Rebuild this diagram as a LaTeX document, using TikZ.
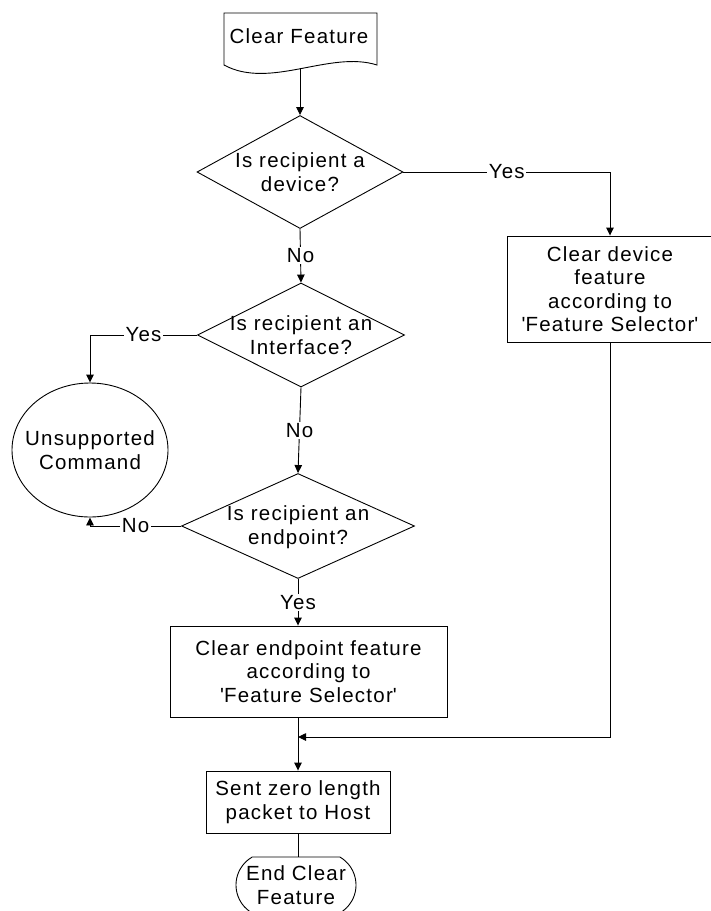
\documentclass[tikz,border=0pt]{standalone}
\usepackage{fontspec}
\setmainfont{Liberation Sans}[LetterSpace=6]
\usetikzlibrary{shapes.geometric,shapes.misc,arrows.meta}

\newcommand{\sq}{\textquotesingle}

\begin{document}
\begin{tikzpicture}[x=1pt,y=-1pt,
  every node/.style={font=\fontsize{20.5}{23.5}\selectfont},
  outline/.style={draw, line width=0.9pt},
  procbox/.style={outline, rectangle, inner sep=0pt, align=center},
  decision/.style={outline, diamond, inner sep=0pt},
  txt/.style={align=center, inner sep=0pt},
  lbl/.style={fill=white, inner sep=1.5pt},
  flow/.style={line width=0.9pt, -{Triangle[length=8pt,width=7.5pt]}},
  plain/.style={line width=0.9pt}]

\useasboundingbox (0,0) rectangle (711,911);

% start: document symbol
\node[txt] (start) at (299,36) {Clear Feature};
\draw[outline] (224,13) -- (377,13) -- (377,65)
  .. controls (330,50) and (270,90) .. (224,65) -- cycle;
\coordinate (startbot) at (300,68);

% decisions
\node[decision, minimum width=206pt, minimum height=113pt] (d1) at (300,172) {};
\node[txt] (d1t) at (300,172) {Is recipient a\\device?};

\node[decision, minimum width=207pt, minimum height=104pt] (d2) at (301,335) {};
\node[txt] (d2t) at (301,335) {Is recipient an\\Interface?};

\node[decision, minimum width=233pt, minimum height=105pt] (d3) at (298,526) {};
\node[txt] (d3t) at (298,527) {Is recipient an\\endpoint?};

% actions
\node[procbox, minimum width=206pt, minimum height=106pt] (dev) at (610,289)
  {Clear device\\feature\\according to\\\sq Feature Selector\sq};

\node[procbox, minimum width=277pt, minimum height=91pt] (ep) at (308.5,671.5)
  {Clear endpoint feature\\according to\\\sq Feature Selector\sq};

\node[procbox, minimum width=184pt, minimum height=62pt] (sent) at (298,802)
  {Sent zero length\\packet to Host};

% terminals
\node[outline, ellipse, inner sep=0pt, minimum width=156pt, minimum height=134pt] (uc) at (90,450) {};
\node[txt] (uct) at (90,450) {Unsupported\\Command};

\node[outline, rounded rectangle, rounded rectangle arc length=120, inner sep=0pt,
      minimum width=120pt, minimum height=56pt] (finish) at (296,885) {};
\node[txt] (finisht) at (296,885) {End Clear\\Feature};

\coordinate (merge) at (298,737);

% connectors
\draw[flow] (startbot) -- (d1.north);
\draw[flow] (d1.east) -| node[lbl, pos=0.25] {Yes} (dev.north);
\draw[flow] (d1.south) -- node[lbl] {No} (d2.north);
\draw[flow] (d2.west) -| node[lbl, pos=0.25] {Yes} (uc.north);
\draw[flow] (d2.south) -- node[lbl] {No} (d3.north);
\draw[flow] (d3.west) -| node[lbl, pos=0.25] {No} (uc.south);
\draw[flow] (d3.south) -- node[lbl] {Yes} (d3.south |- ep.north);
\draw[flow] (dev.south) |- (merge);
\draw[flow] (ep.south -| sent.north) -- (sent.north);
\draw[plain] (sent.south) -- (sent.south |- finish.north);

\end{tikzpicture}
\end{document}
